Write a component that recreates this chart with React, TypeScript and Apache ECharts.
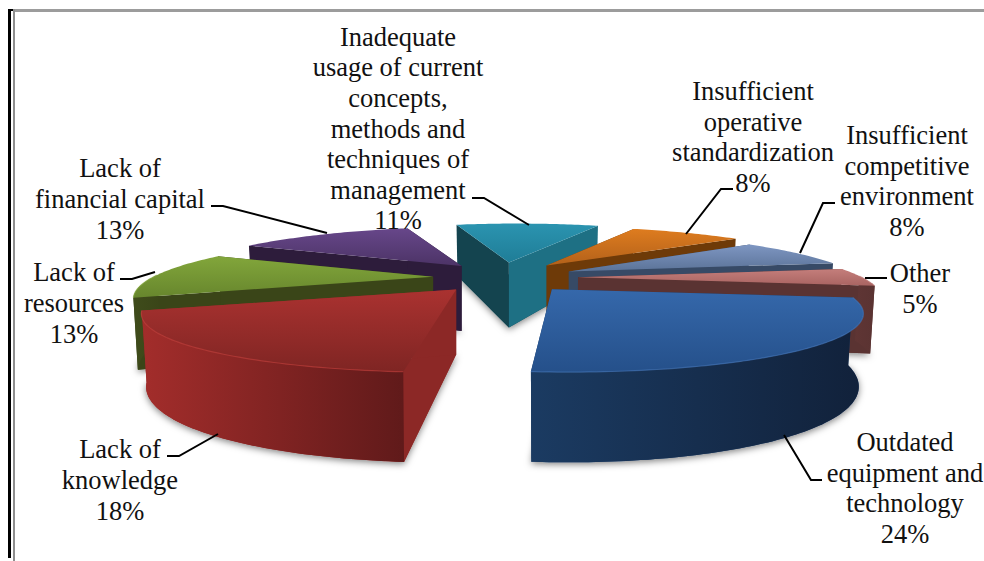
import React, { useEffect, useRef } from "react";
import * as echarts from "echarts";

// Share of each problem, clockwise from the front-right of the exploded pie.
const categories = [
  ["Outdated", "equipment and", "technology"],
  ["Lack of", "knowledge"],
  ["Lack of", "resources"],
  ["Lack of", "financial capital"],
  ["Inadequate", "usage of current", "concepts,", "methods and", "techniques of", "management"],
  ["Insufficient", "operative", "standardization"],
  ["Insufficient", "competitive", "environment"],
  ["Other"],
];
const shares = [24, 18, 13, 13, 11, 8, 8, 5];

// Back-to-front painting order of the slices.
const paintOrder = [4, 3, 5, 2, 6, 7, 1, 0];

const topColors = [
  ["#3568ab", "#25508a"],
  ["#aa3230", "#7f2523"],
  ["#82a63b", "#67862d"],
  ["#67478a", "#4c3366"],
  ["#2b94b0", "#1f7d97"],
  ["#de7c1f", "#b3611a"],
  ["#7e96c2", "#5b7398"],
  ["#c47e7b", "#a96462"],
];
const rimColors = [
  ["#1b3b62", "#11213a"],
  ["#a32d2b", "#601a1a"],
  ["#3f4c1b", "#3a4518"],
  ["#2d1c3b", "#2d1c3b"],
  ["#14444f", "#14444f"],
  ["#6e3a08", "#6e3a08"],
  ["#374a66", "#374a66"],
  ["#5f3534", "#5a3332"],
];
const startWallColors = ["#1b3a63", "#8c2826", "#3a4518", "#2d1c3b", "#14444f", "#6e3a08", "#374a66", "#5a3332"];
const endWallColors = ["#1b3a63", "#8c2826", "#3a4518", "#2d1c3b", "#1e7084", "#6e3a08", "#374a66", "#5a3332"];
const bevelColors = ["#4a7cc0", "#c8443f", "#93b84a", "#7a5a9c", "#3aa5c0", "#e8902f", "#92a8d0", "#d49290"];

// Per-slice fine tuning of the explosion: horizontal nudge, radial scale, apex shift.
const sliceNudge = [0, 0, 0, 3, 8, 6, 1, 1];
const sliceScale = [0.98, 1, 0.985, 1, 1, 1.03, 1, 1];
const apexShift = [-3, 0, 0, 0, -8, -8, -3, 0];

// Where each label block is centred, and its leader line.
const labelCenters = [
  [905, 488], [120, 480], [74, 303], [120, 199], [398, 128.5], [753, 137], [907, 181], [920, 288.5],
];
const leaders = [
  [[822, 480], [811, 480], [784, 435]],
  [[167, 456], [179, 456], [218, 434]],
  [[120, 279], [132, 279], [155, 272]],
  [[211, 206], [223, 206], [327, 233]],
  [[472, 198], [484, 198], [529, 225]],
  [[733, 189], [721, 189], [686, 234]],
  [[835, 203], [823, 203], [800, 253]],
  [[887, 278], [865, 278]],
];

// Perspective model of the pie disc.
const START_DEG = 8.5;
const CENTER = [505, 277.5];
const EXPLODE = [72, 15];
const NEAR_GROWTH = 0.15;
const RADIUS_X = 284;
const RADIUS_Y = 53;
const PERSPECTIVE = 0.36;
const OFFSET_DEPTH = 0.06;
const OFFSET_SPREAD = 0.6;
const DEPTH = 65;
const DEPTH_PERSPECTIVE = 0.28;
const RIM_SHRINK = 0.985;

const total = shares.reduce((a, b) => a + b, 0);
const rad = (deg: number) => (deg * Math.PI) / 180;

function buildSlice(index: number) {
  const before = shares.slice(0, index).reduce((a, b) => a + b, 0);
  const a0 = START_DEG + (before / total) * 360;
  const a1 = a0 + (shares[index] / total) * 360;
  const mid = (a0 + a1) / 2;
  const cosMid = Math.cos(rad(mid));
  const sinMid = Math.sin(rad(mid));
  // Slices pulled towards the viewer travel further on screen.
  const ox = EXPLODE[0] * cosMid * (1 + NEAR_GROWTH * Math.max(sinMid, 0));
  const ax = CENTER[0] + ox + sliceNudge[index];
  const ay = CENTER[1] + EXPLODE[1] * sinMid;
  const scale = sliceScale[index];

  const top = (deg: number) => {
    const X = Math.cos(rad(deg));
    const Y = Math.sin(rad(deg));
    const d = 1 - PERSPECTIVE * Y;
    const dx = 1 - PERSPECTIVE * (Y + OFFSET_DEPTH * sinMid);
    const spread = ox * (1 / dx - 1) * OFFSET_SPREAD * Math.abs(sinMid);
    return [ax + (scale * RADIUS_X * X) / dx + spread, ay + (RADIUS_Y * Y) / d];
  };
  const bottom = (deg: number) => {
    const p = top(deg);
    const Y = Math.sin(rad(deg));
    return [ax + (p[0] - ax) * RIM_SHRINK, p[1] + DEPTH / (1 - DEPTH_PERSPECTIVE * Y)];
  };
  const sweep: number[] = [];
  for (let t = a0; t < a1; t += 1) sweep.push(t);
  sweep.push(a1);

  const apexTop = [ax + apexShift[index], ay];
  const apexBottom = [ax + apexShift[index], ay + DEPTH];
  const front = sweep.filter((t) => Math.sin(rad(t)) > -0.03);
  return { a0, a1, sweep, front, apexTop, apexBottom, top, bottom };
}

const slices = shares.map((_, i) => buildSlice(i));

const vertical = (stops: string[]) => ({
  type: "linear", x: 0, y: 0, x2: 0, y2: 1,
  colorStops: [{ offset: 0, color: stops[0] }, { offset: 1, color: stops[1] }],
});
const horizontal = (stops: string[]) => ({
  type: "linear", x: 0, y: 0, x2: 1, y2: 0,
  colorStops: [{ offset: 0, color: stops[0] }, { offset: 1, color: stops[1] }],
});

function renderSlice(_params: any, api: any) {
  const i = api.value(1);
  const s = slices[i];
  const children: any[] = [];

  // Floor of the slice, carrying the soft drop shadow.
  children.push({
    type: "polygon",
    shape: { points: [s.apexBottom, ...s.sweep.map(s.bottom)] },
    style: { fill: startWallColors[i], shadowBlur: 7, shadowColor: "rgba(0,0,0,0.5)", shadowOffsetY: 2 },
  });

  const wall = (deg: number, color: string) => ({
    type: "polygon",
    shape: { points: [s.apexTop, s.top(deg), s.bottom(deg), s.apexBottom] },
    style: { fill: color },
  });
  children.push(wall(s.a0, startWallColors[i]));
  children.push(wall(s.a1, endWallColors[i]));

  if (s.front.length > 1) {
    const rim = [...s.front.map(s.top), ...[...s.front].reverse().map(s.bottom)];
    children.push({
      type: "polygon",
      shape: { points: rim },
      style: { fill: horizontal(rimColors[i]) },
    });
  }

  children.push({
    type: "polygon",
    shape: { points: [s.apexTop, ...s.sweep.map(s.top)] },
    style: { fill: vertical(topColors[i]) },
  });

  if (s.front.length > 1) {
    children.push({
      type: "polyline",
      shape: { points: s.front.map(s.top) },
      style: { stroke: bevelColors[i], lineWidth: 1.2, fill: "none", opacity: 0.55 },
    });
  }
  return { type: "group", children };
}

const sliceLabels = categories.map((lines, i) => ({
  type: "text",
  x: labelCenters[i][0],
  y: labelCenters[i][1],
  z: 20,
  style: {
    text: [...lines, `${shares[i]}%`].join("\n"),
    fill: "#111111",
    font: '26.5px "Liberation Serif"',
    lineHeight: 30.6,
    align: "center",
    verticalAlign: "middle",
  },
}));

const leaderLines = leaders.map((points) => ({
  type: "polyline",
  z: 20,
  shape: { points },
  style: { stroke: "#000000", lineWidth: 2, fill: "none" },
}));

const frame = [
  { type: "rect", z: 1, shape: { x: 8, y: 9, width: 3, height: 549 }, style: { fill: "#000000" } },
  { type: "rect", z: 1, shape: { x: 8, y: 9, width: 6, height: 2 }, style: { fill: "#000000" } },
  { type: "rect", z: 1, shape: { x: 13, y: 9, width: 971, height: 3 }, style: { fill: "#9c9c9c" } },
  { type: "rect", z: 1, shape: { x: 13, y: 9, width: 2, height: 552 }, style: { fill: "#8f8f8f" } },
];

export default function App() {
  const ref = useRef<HTMLDivElement>(null);
  useEffect(() => {
    const chart = echarts.init(ref.current!, undefined, { renderer: "svg" });
    chart.setOption({
      animation: false,
      backgroundColor: "#ffffff",
      graphic: { elements: [...frame, ...leaderLines, ...sliceLabels] },
      series: [
        {
          type: "custom",
          coordinateSystem: "none",
          silent: true,
          clip: false,
          renderItem: renderSlice,
          data: paintOrder.map((i) => [shares[i], i]),
        },
      ],
    });
    return () => chart.dispose();
  }, []);
  return <div ref={ref} style={{ position: "fixed", left: 0, top: 0, width: 984, height: 561 }} />;
}
